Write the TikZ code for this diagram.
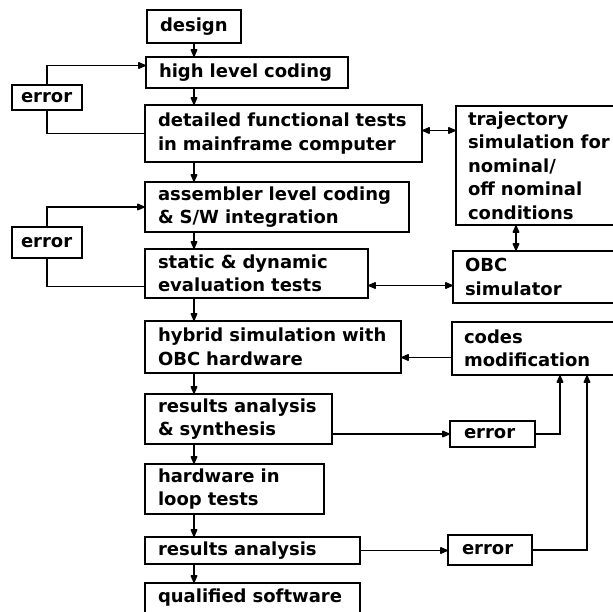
\documentclass[tikz,border=0pt]{standalone}
\usepackage{fontspec}
\setmainfont{DejaVu Sans}
\usepackage{tikz}
\usetikzlibrary{positioning,arrows.meta}

\begin{document}
\begin{tikzpicture}[x=1pt, y=-1pt, line width=1.5pt,
		stage/.style={draw,anchor=north west,align=left,outer sep=0pt,inner xsep=13pt,inner ysep=2pt,font=\bfseries\fontsize{18}{23.5}\selectfont},
		errbox/.style={stage,inner xsep=9pt,text width=52pt},
		flow/.style={-{Latex[length=10pt,width=8pt,round]}},
		dflow/.style={{Latex[length=10pt,width=8pt,round]}-{Latex[length=10pt,width=8pt,round]}}]
	
	\path[use as bounding box,clip] (0,0) rectangle (613,611);
	
	% main column
	\node[stage,text width=68pt,minimum height=33pt] (design) at (147,10) {design};
	\node[stage,text width=176pt,minimum height=31pt] (high) [below right=14pt and -1pt of design.south west] {high level coding};
	\node[stage,text width=251pt,minimum height=57pt] (detailed) [below right=17pt and -1pt of high.south west] {detailed functional tests\\in mainframe computer};
	\node[stage,text width=238pt,minimum height=50pt] (assembler) [below right=20pt and 0pt of detailed.south west] {assembler level coding\\\& S/W integration};
	\node[stage,text width=197pt,minimum height=49pt] (static) [below right=17pt and 0pt of assembler.south west] {static \& dynamic\\evaluation tests};
	\node[stage,text width=230pt,minimum height=52pt] (hybrid) [below right=23pt and 0pt of static.south west] {hybrid simulation with\\OBC hardware};
	\node[stage,text width=161pt,minimum height=50pt] (synth) [below right=21pt and 0pt of hybrid.south west] {results analysis\\\& synthesis};
	\node[stage,text width=153pt,minimum height=50pt] (hwloop) [below right=20pt and 0pt of synth.south west] {hardware in\\loop tests};
	\node[stage,text width=189pt,minimum height=27pt] (results) [below right=23pt and 0pt of hwloop.south west] {results analysis};
	\node[stage,text width=189pt,minimum height=30pt] (qualified) [below right=19pt and 0pt of results.south west] {qualified software};
	
	% error boxes
	\node[errbox,minimum height=25pt] (err1) at (12,85) {error};
	\node[errbox,minimum height=31pt] (err2) at (12,227) {error};
	\node[errbox,text width=57pt,inner xsep=14pt,minimum height=26pt] (err3) at (450,421) {error};
	\node[errbox,text width=56pt,inner xsep=14pt,minimum height=30pt] (err4) at (448,535) {error};
	
	% right column
	\node[stage,inner xsep=12pt,text width=200pt,minimum height=119pt] (traj) at (456,106) {trajectory\\simulation for\\nominal/\\off nominal\\conditions};
	\node[stage,inner xsep=12pt,text width=200pt,minimum height=52pt] (obc) at (453,251) {OBC\\simulator};
	\node[stage,inner xsep=12pt,text width=200pt,minimum height=53pt] (codes) at (452,322) {codes\\modification};
	
	% flow down the column
	\draw[flow] (design.south) -- (design.south |- high.north);
	\draw[flow] (high.south -| design.south) -- (detailed.north -| design.south);
	\draw[flow] (detailed.south -| design.south) -- (assembler.north -| design.south);
	\draw[flow] (assembler.south -| design.south) -- (static.north -| design.south);
	\draw[flow] (static.south -| design.south) -- (hybrid.north -| design.south);
	\draw[flow] (hybrid.south -| design.south) -- (synth.north -| design.south);
	\draw[flow] (synth.south -| design.south) -- (hwloop.north -| design.south);
	\draw[flow] (hwloop.south -| design.south) -- (results.north -| design.south);
	\draw[flow] (results.south -| design.south) -- (qualified.north -| design.south);
	
	% error loops
	\draw (detailed.west) -| (err1.south);
	\draw[flow] (err1.north) |- ([yshift=7pt]high.west);
	\draw ([yshift=-13pt]static.west) -| (err2.south);
	\draw[flow] (err2.north) |- (assembler.west);
	
	% links to the simulators
	\draw[dflow] ([yshift=3pt]detailed.east) -- ([yshift=3pt]detailed.east -| traj.west);
	\draw[dflow] ([xshift=60pt]traj.south west) -- ([xshift=60pt]traj.south west |- obc.north);
	\draw[dflow] ([yshift=-12pt]static.east) -- ([yshift=-12pt]static.east -| obc.west);
	\draw[flow] ([yshift=-9pt]codes.west) -- ([yshift=-9pt]codes.west -| hybrid.east);
	
	\draw[flow] (err3.west -| synth.east) -- (err3.west);
	\draw[flow] (err3.east) -| ([xshift=108pt]codes.south west);
	\draw[flow] (results.east) -- (results.east -| err4.west);
	\draw[flow] (err4.east) -| ([xshift=135pt]codes.south west);
\end{tikzpicture}
\end{document}
